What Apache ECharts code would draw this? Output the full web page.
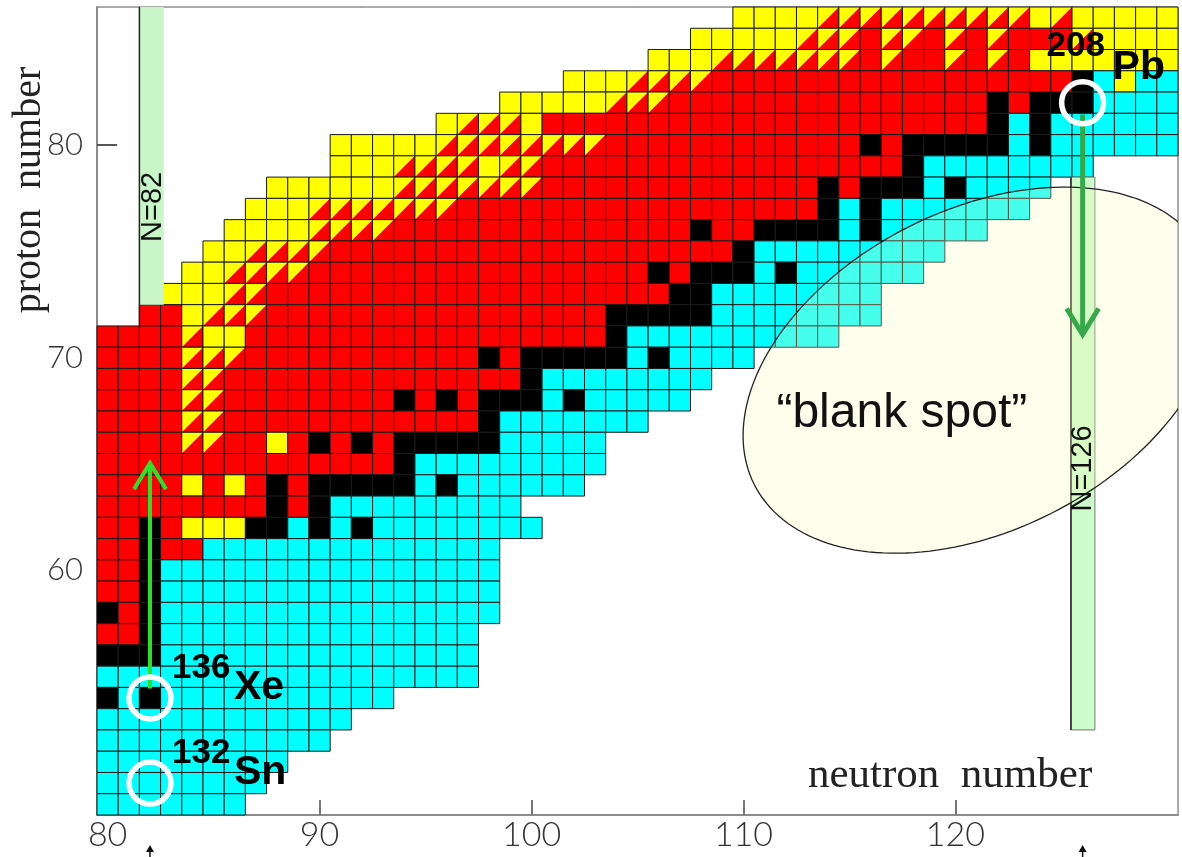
<!DOCTYPE html>
<html>
<head>
<meta charset="utf-8">
<script src="https://cdn.jsdelivr.net/npm/echarts@6.0.0/dist/echarts.min.js"></script>
<style>
  html, body { margin: 0; padding: 0; background: #fff; }
  #main { width: 1182px; height: 857px; }
</style>
</head>
<body>
<div id="main"></div>
<script>
// 坐标轴刻度
var xTicks = [80, 90, 100, 110, 120];
var yTicks = [60, 70, 80];

// 核素图：每行一个质子数（从 Z=86 往下到 Z=49），从 N=80 开始按游程编码
// r = EC/β+，y = α，t = α + EC/β+，b = 稳定，c = β-，. = 空
var neutronMin = 80;
var protonTop = 86;
var nuclideRows = [
  '.30 y4 t10 y1 t1 y5',                   // 86
  '.28 y5 t3 r1 t2 r1 t1 r1 t1 r3 t1 y4',  // 85
  '.26 y3 t7 r1 t1 r2 t1 r1 t1 r1 y7',     // 84
  '.22 y3 t4 r17 b1 c1 y1 c2',             // 83
  '.19 y5 t3 r15 b1 r1 b3 c4',             // 82
  '.16 y1 t3 y1 r21 b1 c1 b1 c6',          // 81
  '.11 y5 t8 r12 b1 r1 b5 c1 b1 c6',       // 80
  '.11 y3 t4 y1 t2 r17 b1 c8',             // 79
  '.8 y6 t7 r13 b1 r1 b3 c1 b1 c4',        // 78
  '.7 y3 t7 r17 b1 c1 b1 c7',              // 77
  '.6 y4 t4 r14 b1 r2 b4 c1 b1 c5',        // 76
  '.5 y2 t4 r19 b1 c9',                    // 75
  '.4 y2 t4 r16 b1 r1 b3 c1 b1 c6',        // 74
  '.3 y3 t2 r19 b2 c8',                    // 73
  '.2 r2 y1 t3 r16 b5 c8',                 // 72
  'r4 t1 y2 r17 b1 c10',                   // 71
  'r4 t3 r11 b1 r1 b5 c1 b1 c4',           // 70
  'r4 t2 r14 b1 c8',                       // 69
  'r4 t2 r8 b1 r1 b1 r1 b3 c1 b1 c5',      // 68
  'r4 t2 r12 b1 c7',                       // 67
  'r4 t2 r2 y1 r1 b1 r1 b1 r1 b5 c5',      // 66
  'r14 b1 c9',                             // 65
  'r4 y1 r1 y1 r1 b1 r1 b5 c1 b1 c6',      // 64
  'r8 b1 r1 b1 c9',                        // 63
  'r2 b1 r1 y3 b2 c1 b1 c1 b1 c8',         // 62
  'r2 b1 r2 c14',                          // 61
  'r2 b1 c16',                             // 60
  'r2 b1 c16',                             // 59
  'b1 r1 b1 c16',                          // 58
  'r2 b1 c15',                             // 57
  'b3 c15',                                // 56
  'c18',                                   // 55
  'b1 c1 b1 c11',                          // 54
  'c12',                                   // 53
  'c11',                                   // 52
  'c9',                                    // 51
  'c8',                                    // 50
  'c7'                                     // 49
];
var decayKinds = ['r', 'y', 't', 'b', 'c'];
var kindColors = { r: '#ff0000', y: '#ffff00', b: '#000000', c: '#00ffff' };

// 标记的核素
var markedNuclides = [
  { symbol: 'Xe', mass: 136, n: 82, z: 54 },
  { symbol: 'Sn', mass: 132, n: 82, z: 50 },
  { symbol: 'Pb', mass: 208, n: 126, z: 82 }
];
var magicNumbers = [82, 126];

var cellData = [];
nuclideRows.forEach(function (row, i) {
  var z = protonTop - i;
  var n = neutronMin;
  row.split(' ').forEach(function (tok) {
    var kind = tok.charAt(0);
    var count = parseInt(tok.slice(1), 10);
    for (var k = 0; k < count; k++, n++) {
      if (kind !== '.') cellData.push([n, z, decayKinds.indexOf(kind)]);
    }
  });
});

var sans = '"Liberation Sans", Arial, sans-serif';
var serif = '"Liberation Serif", "Times New Roman", serif';

function renderCell(params, api) {
  var n = api.value(0), z = api.value(1);
  var kind = decayKinds[api.value(2)];
  var a = api.coord([n - 0.5, z + 0.5]);
  var b = api.coord([n + 0.5, z - 0.5]);
  var x = a[0], y = a[1], w = b[0] - a[0], h = b[1] - a[1];
  var border = { type: 'rect', shape: { x: x, y: y, width: w, height: h },
    style: { fill: null, stroke: '#1a1a1a', lineWidth: 1 } };
  if (kind === 't') {
    return { type: 'group', children: [
      { type: 'polygon', shape: { points: [[x, y], [x + w, y], [x, y + h]] }, style: { fill: '#ffff00' } },
      { type: 'polygon', shape: { points: [[x + w, y], [x + w, y + h], [x, y + h]] }, style: { fill: '#ff0000' } },
      border
    ] };
  }
  border.style.fill = kindColors[kind];
  return border;
}

// 幻数带：N=82 在上方空白区，N=126 从铅往下
var bandLayout = {
  82: { from: 72.5, to: 86.5, left: 81.5, right: 82.65, edgeFrom: 71.5, label: [82.12, 77.1], fill: '#c9f6c9' },
  126: { from: 52.5, to: 78.5, left: 125.45, right: 126.58, edgeFrom: 52.5, label: [126.02, 64.8], fill: '#ccfccc' }
};

function renderBand(params, api) {
  var magic = api.value(0);
  var L = bandLayout[magic];
  var p0 = api.coord([L.left, L.to]);
  var p1 = api.coord([L.right, L.from]);
  var e0 = api.coord([L.left, L.edgeFrom]);
  return { type: 'group', children: [
    { type: 'rect', shape: { x: p0[0], y: p0[1], width: p1[0] - p0[0], height: p1[1] - p0[1] },
      style: { fill: L.fill, stroke: magic === 126 ? '#777' : null, lineWidth: 1 } },
    { type: 'line', shape: { x1: p0[0], y1: p0[1], x2: e0[0], y2: e0[1] },
      style: { stroke: '#222', lineWidth: 1.5 } }
  ] };
}

function renderBandLabel(params, api) {
  var magic = api.value(0);
  var t = api.coord(bandLayout[magic].label);
  return { type: 'text', x: t[0], y: t[1], rotation: Math.PI / 2,
    style: { text: 'N=' + magic, fontSize: 29, fontFamily: sans,
      fill: '#111', align: 'center', verticalAlign: 'middle' } };
}

function renderBlankSpot(params, api) {
  var c = api.coord([api.value(0), api.value(1)]);
  var unit = api.size([1, 1]);
  var ra = 11.93 * unit[0], rb = 7.55 * unit[0];
  var th = 27 * Math.PI / 180;
  var pts = [];
  for (var i = 0; i < 180; i++) {
    var s = i / 180 * Math.PI * 2;
    var X = ra * Math.cos(s) * Math.cos(th) - rb * Math.sin(s) * Math.sin(th);
    var Y = ra * Math.cos(s) * Math.sin(th) + rb * Math.sin(s) * Math.cos(th);
    pts.push([c[0] + X, c[1] - Y]);
  }
  var tp = api.coord([117.47, 67.35]);
  return { type: 'group', children: [
    { type: 'polygon', shape: { points: pts },
      style: { fill: 'rgba(250,250,185,0.28)', stroke: '#222', lineWidth: 1.3 } },
    { type: 'text', x: tp[0], y: tp[1],
      style: { text: '\u201cblank spot\u201d', fontSize: 48, fontFamily: sans,
        fill: '#111', align: 'center', verticalAlign: 'middle' } }
  ] };
}

// 箭头：Xe 往上，Pb 往下
var arrowLayout = [
  { n: 82, from: 54.45, to: 65.05, color: '#2de02a', width: 4 },
  { n: 126, from: 81.45, to: 71.1, color: '#37a84a', width: 5 }
];

function renderArrow(params, api) {
  var A = arrowLayout[params.dataIndex];
  var p0 = api.coord([api.value(0), A.from]);
  var p1 = api.coord([api.value(0), A.to]);
  var dir = p1[1] < p0[1] ? 1 : -1;
  return { type: 'group', children: [
    { type: 'line', shape: { x1: p0[0], y1: p0[1], x2: p1[0], y2: p1[1] + dir * 2 },
      style: { stroke: A.color, lineWidth: A.width } },
    { type: 'polyline', shape: { points: [[p1[0] - 16, p1[1] + dir * 26], [p1[0], p1[1]], [p1[0] + 16, p1[1] + dir * 26]] },
      style: { stroke: A.color, lineWidth: A.width, fill: null, lineJoin: 'miter' } }
  ] };
}

function renderMarker(params, api) {
  var m = markedNuclides[params.dataIndex];
  var c = api.coord([api.value(0), api.value(1)]);
  var isPb = m.symbol === 'Pb';
  var massPos = isPb ? [c[0] - 36, c[1] - 56] : [c[0] + 22, c[1] - 30];
  var symPos = isPb ? [c[0] + 30, c[1] - 35] : [c[0] + 84, c[1] - 10];
  return { type: 'group', children: [
    { type: 'circle', shape: { cx: c[0], cy: c[1], r: 21 },
      style: { fill: null, stroke: '#ffffff', lineWidth: 5.5 } },
    { type: 'text', x: massPos[0], y: massPos[1],
      style: { text: String(m.mass), fontSize: 35, fontWeight: 'bold', fontFamily: sans,
        fill: '#000', align: 'left', verticalAlign: 'middle' } },
    { type: 'text', x: symPos[0], y: symPos[1],
      style: { text: m.symbol, fontSize: 41, fontWeight: 'bold', fontFamily: sans,
        fill: '#000', align: 'left', verticalAlign: 'middle' } }
  ] };
}

// 横轴下方的小箭头
function renderCaret(params, api) {
  var c = api.coord([api.value(0), 48.5]);
  var y0 = c[1] + 30;
  return { type: 'group', children: [
    { type: 'polygon', shape: { points: [[c[0], y0], [c[0] - 4, y0 + 7], [c[0] + 4, y0 + 7]] },
      style: { fill: '#111' } },
    { type: 'line', shape: { x1: c[0], y1: y0 + 5, x2: c[0], y2: y0 + 14 },
      style: { stroke: '#111', lineWidth: 1.5 } }
  ] };
}

var myChart = echarts.init(document.getElementById('main'));
myChart.setOption({
  animation: false,
  grid: { left: 97, right: 4, top: 7, bottom: 42, show: true, borderColor: '#555', borderWidth: 1 },
  xAxis: {
    type: 'value', min: 79.5, max: 130.5,
    axisLine: { lineStyle: { color: '#8c8c8c', width: 2 } },
    axisTick: { inside: true, length: 15, customValues: xTicks, lineStyle: { color: '#777', width: 2 } },
    axisLabel: { customValues: xTicks, fontSize: 34, color: '#333', fontFamily: 'Lato', fontWeight: 300, margin: 3 },
    splitLine: { show: false }
  },
  yAxis: {
    type: 'value', min: 48.5, max: 86.5,
    axisLine: { lineStyle: { color: '#8c8c8c', width: 2 } },
    axisTick: { inside: true, length: 20, customValues: yTicks, lineStyle: { color: '#555', width: 2 } },
    axisLabel: { customValues: yTicks, fontSize: 31, color: '#333', fontFamily: 'Lato', fontWeight: 300, margin: 14 },
    splitLine: { show: false }
  },
  graphic: [
    { type: 'text', left: 808, top: 754, silent: true,
      style: { text: 'neutron  number', fontSize: 43, fontFamily: serif, fill: '#222' } },
    { type: 'text', x: 29, y: 190, rotation: Math.PI / 2, silent: true,
      style: { text: 'proton  number', fontSize: 40, fontFamily: serif,
        fill: '#222', align: 'center', verticalAlign: 'middle' } }
  ],
  series: [
    { type: 'custom', name: 'nuclides', z: 2, silent: true, renderItem: renderCell, data: cellData },
    { type: 'custom', name: 'magic', z: 3, silent: true, renderItem: renderBand,
      data: magicNumbers.map(function (m) { return [m, 0]; }) },
    { type: 'custom', name: 'blank spot', z: 4, silent: true, clip: true, renderItem: renderBlankSpot,
      data: [[121.15, 69.42]] },
    { type: 'custom', name: 'magic labels', z: 5, silent: true, renderItem: renderBandLabel,
      data: magicNumbers.map(function (m) { return [m, 0]; }) },
    { type: 'custom', name: 'arrows', z: 5, silent: true, renderItem: renderArrow,
      data: arrowLayout.map(function (a) { return [a.n, a.from]; }) },
    { type: 'custom', name: 'markers', z: 6, silent: true, renderItem: renderMarker,
      data: markedNuclides.map(function (m) { return [m.n, m.z]; }) },
    { type: 'custom', name: 'carets', z: 6, silent: true, renderItem: renderCaret,
      data: magicNumbers.map(function (m) { return [m, 48.5]; }) }
  ]
});
</script>
</body>
</html>
